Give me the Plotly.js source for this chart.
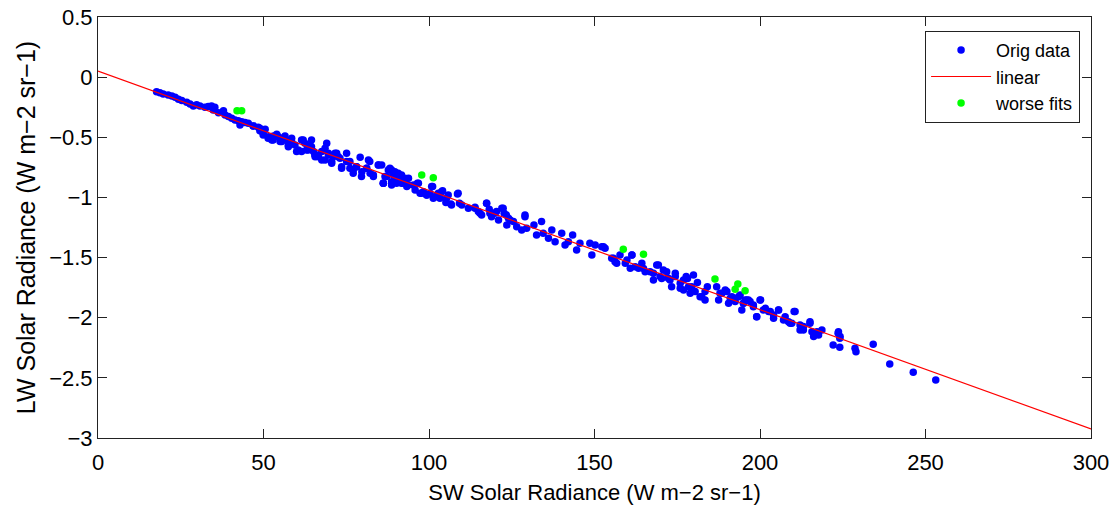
<!DOCTYPE html>
<html>
<head>
<meta charset="utf-8">
<script src="https://cdn.plot.ly/plotly-3.0.1.min.js"></script>
<style>html,body{margin:0;padding:0;background:#fff;}#chart{width:1113px;height:508px;}</style>
</head>
<body>
<div id="chart"></div>
<script>
// Original data (SW vs LW solar radiance)
var origX = [17.7,18.7,19.7,21.2,22.3,23.3,24.3,25.3,26.8,27.8,28.8,29.8,30.8,32.3,33.3,34.3,35.3,34.8,36.4,37.9,38.4,39.4,40.4,41.4,42.4,42.9,43.4,44.4,45.4,46.9,48.4,48.9,49.9,50.5,51.5,52.5,53.0,54.0,55.0,56.0,56.5,57.5,58.0,58.5,59.5,60.5,61.5,62.0,63.0,64.0,64.5,65.1,65.6,66.6,67.6,68.6,69.1,69.6,70.6,71.1,72.1,73.1,73.6,75.1,76.1,77.1,78.1,79.2,79.7,81.2,81.7,82.2,83.2,84.7,86.2,87.2,87.7,88.7,89.2,90.2,
85.7,86.2,86.7,88.2,88.7,89.7,90.2,90.7,91.2,91.7,92.2,92.8,93.3,93.8,95.3,95.8,96.5,97.3,98.3,99.3,100.3,101.1,101.8,102.8,103.3,104.1,105.1,105.8,106.6,108.6,109.2,111.9,113.9,114.9,115.9,117.4,118.2,118.9,119.9,121.0,122.0,122.7,123.5,124.0,125.5,126.5,128.0,129.0,129.5,131.7,132.5,134.0,134.5,136.1,137.1,138.1,140.1,141.1,142.1,143.4,144.6,145.6,148.6,149.2,150.2,
152.2,153.2,155.2,156.2,157.7,159.3,160.8,161.3,163.3,164.3,165.3,166.8,167.8,168.8,169.8,170.8,172.3,173.3,174.4,175.9,176.9,177.7,178.4,178.9,179.9,181.1,182.4,183.4,184.1,186.9,187.5,188.5,190.0,190.5,191.5,192.5,194.0,194.5,195.5,197.0,198.0,199.0,200.2,201.0,202.6,204.1,205.6,207.1,208.6,209.6,210.6,212.1,213.1,215.1,216.2,217.2,218.7,
222.1,223.6,224.1,224.1,228.7,229.0,234.2,239.2,246.3,253.1,
46.9,48.9,49.9,51.4,52.9,54.5,55.5,56.5,57.5,58.5,60.0,61.5,62.5,63.5,64.5,65.5,66.5,67.6,68.6,69.6,70.6,71.6,72.6,73.6,75.1,76.1,77.1,78.1,79.6,81.1,82.1,83.2,84.7,86.2,88.2,89.2,90.2,
88.7,89.7,90.7,91.7,92.7,93.7,96.8,97.8,99.3,100.8,101.3,102.8,103.8,105.3,106.8,108.8,109.9,113.9,115.4,117.4,118.4,120.4,122.4,123.4,124.5,129.0,
152.7,155.7,156.7,159.8,161.3,162.3,164.8,167.8,169.3,170.3,171.8,172.8,174.4,175.9,176.9,178.1,179.4,180.4,181.9,183.4,187.9,189.5,191.0,193.5,195.0,196.0,
195.0,196.5,198.0,200.0,199.0,201.6,203.1,204.1,205.6,207.6,209.1,210.3,212.1,213.1,215.1,215.7,217.7,223.7,224.2];
var origY = [-0.121,-0.129,-0.140,-0.148,-0.157,-0.168,-0.184,-0.195,-0.209,-0.223,-0.240,-0.229,-0.240,-0.251,-0.245,-0.240,-0.251,-0.273,-0.295,-0.279,-0.315,-0.328,-0.342,-0.356,-0.362,-0.398,-0.370,-0.378,-0.384,-0.406,-0.417,-0.445,-0.467,-0.434,-0.495,-0.522,-0.489,-0.475,-0.536,-0.509,-0.489,-0.578,-0.536,-0.509,-0.564,-0.605,-0.619,-0.522,-0.605,-0.564,-0.522,-0.619,-0.661,-0.647,-0.689,-0.592,-0.550,-0.633,-0.702,-0.661,-0.633,-0.675,-0.744,-0.633,-0.702,-0.772,-0.744,-0.666,-0.786,-0.758,-0.689,-0.799,-0.827,-0.730,-0.883,-0.827,-0.772,-0.896,-0.799,-0.855,
-0.730,-0.883,-0.827,-0.758,-0.869,-0.786,-0.883,-0.800,-0.841,-0.813,-0.883,-0.855,-0.910,-0.841,-0.896,-0.938,-0.883,-0.966,-0.952,-0.980,-0.966,-0.910,-0.994,-0.966,-1.007,-0.944,-1.043,-0.980,-1.055,-0.971,-1.049,-1.090,-1.082,-1.118,-1.146,-1.049,-1.099,-1.160,-1.132,-1.187,-1.090,-1.132,-1.229,-1.174,-1.201,-1.243,-1.271,-1.146,-1.257,-1.229,-1.312,-1.201,-1.298,-1.340,-1.271,-1.368,-1.298,-1.395,-1.368,-1.312,-1.437,-1.381,-1.381,-1.479,-1.395,
-1.409,-1.423,-1.506,-1.534,-1.478,-1.548,-1.589,-1.478,-1.589,-1.548,-1.617,-1.617,-1.686,-1.561,-1.658,-1.603,-1.672,-1.742,-1.658,-1.756,-1.686,-1.658,-1.742,-1.797,-1.645,-1.708,-1.825,-1.783,-1.742,-1.742,-1.852,-1.797,-1.783,-1.880,-1.825,-1.866,-1.811,-1.935,-1.852,-1.866,-1.908,-1.991,-1.852,-1.935,-1.949,-1.977,-1.935,-2.019,-2.033,-2.046,-1.949,-2.102,-2.074,-2.033,-2.157,-2.116,-2.102,
-2.226,-2.129,-2.171,-2.246,-2.254,-2.282,-2.221,-2.384,-2.454,-2.517,
-0.406,-0.425,-0.481,-0.509,-0.522,-0.495,-0.536,-0.517,-0.564,-0.536,-0.619,-0.522,-0.550,-0.605,-0.578,-0.647,-0.661,-0.619,-0.689,-0.647,-0.716,-0.633,-0.661,-0.758,-0.702,-0.758,-0.799,-0.744,-0.827,-0.758,-0.702,-0.813,-0.730,-0.883,-0.772,-0.813,-0.855,
-0.772,-0.869,-0.813,-0.883,-0.841,-0.896,-0.883,-0.966,-0.980,-0.910,-1.007,-0.993,-0.952,-1.007,-1.063,-0.966,-1.063,-1.090,-1.132,-1.049,-1.132,-1.118,-1.090,-1.146,-1.187,-1.160,
-1.409,-1.506,-1.548,-1.520,-1.479,-1.576,-1.590,-1.631,-1.562,-1.673,-1.617,-1.686,-1.631,-1.714,-1.770,-1.673,-1.742,-1.783,-1.825,-1.853,-1.797,-1.770,-1.839,-1.825,-1.880,-1.853,
-1.880,-1.852,-1.894,-1.852,-1.991,-1.922,-1.949,-2.005,-1.935,-1.991,-2.046,-1.949,-2.060,-2.102,-2.046,-2.116,-2.143,-2.116,-2.157];

// Linear fit end points
var fitX = [0, 300];
var fitY = [0.05, -2.925];

// Worse fits
var worseX = [42.0,43.4,97.8,101.3,158.7,164.8,186.4,192.5,193.3,195.5];
var worseY = [-0.279,-0.279,-0.813,-0.836,-1.431,-1.473,-1.678,-1.764,-1.719,-1.775];

var xTicks = [0,50,100,150,200,250,300];
var yTicks = [-3,-2.5,-2,-1.5,-1,-0.5,0,0.5];

var FONT = '"Liberation Sans", Arial, Helvetica, sans-serif';

var traces = [
  {x: origX, y: origY, type: 'scatter', mode: 'markers', name: 'Orig data',
   marker: {color: '#0000ff', size: 7.5}},
  {x: fitX, y: fitY, type: 'scatter', mode: 'lines', name: 'linear',
   line: {color: '#ff0000', width: 1.2}},
  {x: worseX, y: worseY, type: 'scatter', mode: 'markers', name: 'worse fits',
   marker: {color: '#00ff00', size: 7.5}}
];

var axisCommon = {
  showgrid: false, zeroline: false, showline: true, linecolor: '#222', linewidth: 1,
  mirror: 'ticks', ticks: 'inside', ticklen: 9, tickcolor: '#222', tickwidth: 1,
  tickfont: {family: FONT, size: 22, color: '#000'}
};

var layout = {
  width: 1113, height: 508,
  margin: {l: 98, r: 22, t: 17, b: 70},
  paper_bgcolor: '#fff', plot_bgcolor: '#fff',
  showlegend: true,
  xaxis: Object.assign({}, axisCommon, {
    range: [0, 300], tickvals: xTicks, ticklabelstandoff: 5,
    title: {text: 'SW Solar Radiance (W m\u22122 sr\u22121)', font: {family: FONT, size: 22, color: '#000'}, standoff: 10}
  }),
  yaxis: Object.assign({}, axisCommon, {
    range: [-3, 0.5], tickvals: yTicks,
    title: {text: 'LW Solar Radiance (W m\u22122 sr\u22121)', font: {family: FONT, size: 25, color: '#000'}, standoff: 6}
  }),
  legend: {
    x: 0.989, y: 0.967, xanchor: 'right', yanchor: 'top',
    bgcolor: '#fff', bordercolor: '#222', borderwidth: 1,
    font: {family: FONT, size: 18, color: '#000'},
    itemwidth: 60, tracegroupgap: 0
  }
};

Plotly.newPlot('chart', traces, layout, {displayModeBar: false, staticPlot: true});
</script>
</body>
</html>
